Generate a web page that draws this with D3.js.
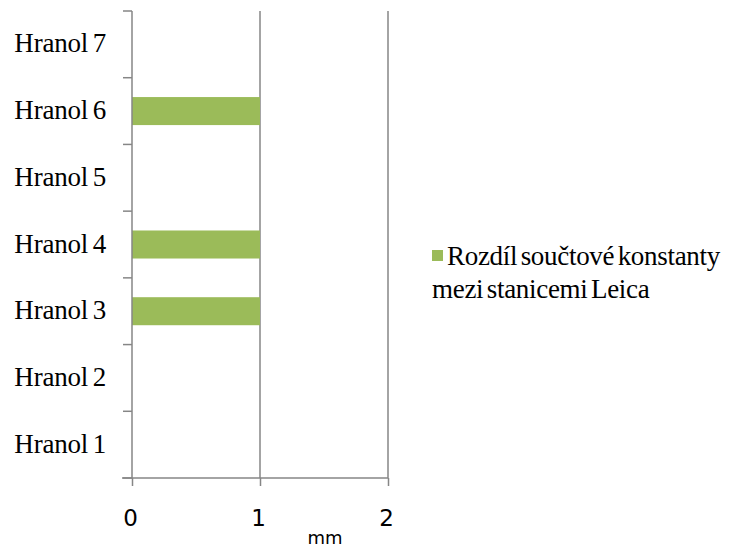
<!DOCTYPE html>
<html>
<head>
<meta charset="utf-8">
<script src="https://cdn.jsdelivr.net/npm/d3@7"></script>
<style>
  body { margin: 0; background: #fff; }
  .serif { font-family: "Liberation Serif", "Times New Roman", "DejaVu Serif", serif; }
</style>
</head>
<body>
<div id="chart"></div>
<script>
const categories = ["Hranol 1", "Hranol 2", "Hranol 3", "Hranol 4", "Hranol 5", "Hranol 6", "Hranol 7"];
const values = [0, 0, 1, 1, 0, 1, 0];
const xTicks = [0, 1, 2];
const seriesName = ["Rozdíl součtové konstanty", "mezi stanicemi Leica"];
const axisTitle = "mm";

const width = 738, height = 549;
const plotLeft = 132, plotRight = 388, plotTop = 11, plotBottom = 478;
const gray = "#868686";
const barColor = "#9BBB59";

let svg = d3.select("#chart")
    .append("svg")
    .attr("width", width)
    .attr("height", height);

let x = d3.scaleLinear().domain([0, 2]).range([plotLeft, plotRight]);
let y = d3.scaleBand()
    .domain(categories.slice().reverse())
    .range([plotTop, plotBottom])
    .paddingInner(0.58)
    .paddingOuter(0.29);

// vertical gridlines
svg.selectAll(".grid")
    .data(xTicks.slice(1))
    .join("line")
    .attr("x1", d => x(d)).attr("x2", d => x(d))
    .attr("y1", plotTop).attr("y2", plotBottom)
    .style("stroke", gray)
    .style("stroke-width", "1.5px");

// bars
svg.selectAll(".bar")
    .data(categories.map((c, i) => ({ name: c, value: values[i] })))
    .join("rect")
    .attr("x", x(0))
    .attr("y", d => y(d.name))
    .attr("width", d => x(d.value) - x(0))
    .attr("height", y.bandwidth())
    .style("fill", barColor);

// x axis
let xAxis = svg.append("g")
    .attr("transform", `translate(0,${plotBottom})`)
    .call(d3.axisBottom(x).tickValues(xTicks).tickSize(8).tickFormat(d3.format("d")));
xAxis.select(".domain").attr("d", `M${plotLeft - 10},0H${plotRight}`).style("stroke", gray).style("stroke-width", "1.5px");
xAxis.selectAll(".tick line").style("stroke", gray).style("stroke-width", "1.5px");
xAxis.selectAll(".tick text")
    .attr("y", 48)
    .attr("dy", null)
    .attr("dx", -2)
    .style("font-family", "'DejaVu Sans', sans-serif")
    .style("font-size", "23px")
    .style("fill", "#000");

// y axis (ticks at band boundaries)
let bounds = d3.range(categories.length + 1).map(i => plotTop + i * (plotBottom - plotTop) / categories.length);
svg.append("line")
    .attr("x1", plotLeft).attr("x2", plotLeft)
    .attr("y1", plotTop).attr("y2", plotBottom)
    .style("stroke", gray)
    .style("stroke-width", "1.5px");
svg.selectAll(".ytick")
    .data(bounds)
    .join("line")
    .attr("x1", plotLeft - 9).attr("x2", plotLeft)
    .attr("y1", d => d).attr("y2", d => d)
    .style("stroke", gray)
    .style("stroke-width", "1.5px");

svg.selectAll(".ylabel")
    .data(categories)
    .join("text")
    .attr("class", "serif")
    .attr("x", 106)
    .attr("y", d => y(d) + y.bandwidth() / 2 + 8)
    .attr("text-anchor", "end")
    .style("font-size", "27px")
    .style("letter-spacing", "-0.2px")
    .style("word-spacing", "-2px")
    .text(d => d);

// axis title
svg.append("text")
    .attr("x", 325)
    .attr("y", 544)
    .attr("text-anchor", "middle")
    .style("font-family", "'DejaVu Sans', sans-serif")
    .style("font-size", "18px")
    .text(axisTitle);

// legend
svg.append("rect")
    .attr("x", 432).attr("y", 250)
    .attr("width", 11).attr("height", 11)
    .style("fill", barColor);
svg.selectAll(".legendText")
    .data(seriesName)
    .join("text")
    .attr("class", "serif")
    .attr("x", (d, i) => i === 0 ? 447 : 432)
    .attr("y", (d, i) => 265 + i * 33)
    .style("font-size", "27px")
    .style("letter-spacing", "-0.3px")
    .style("word-spacing", "-3px")
    .text(d => d);
</script>
</body>
</html>
